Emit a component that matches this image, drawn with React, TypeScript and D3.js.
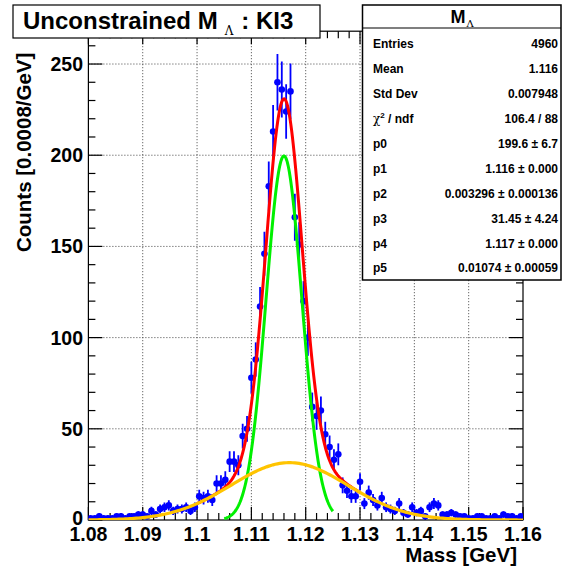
import React from "react";
import * as d3 from "d3";

// ---- data ----
const binStart = 1.08;
const binWidth = 0.0008;
const counts: number[] = [
  1, 1, 2, 1, 1, 1, 2, 2, 1, 2,
  2, 3, 3, 2, 5, 3, 6, 7, 8, 5,
  6, 6, 7, 5, 7, 13, 12, 13, 11, 20,
  20, 22, 32, 32, 30, 46, 50, 78, 88, 117,
  146, 183, 213, 240, 236, 224, 235, 166, 151, 120,
  100, 62, 57, 60, 47, 40, 33, 36, 19, 16,
  13, 13, 21, 9, 15, 11, 8, 12, 7, 6,
  5, 9, 4, 3, 7, 4, 5, 2, 7, 9,
  8, 3, 3, 4, 3, 2, 2, 1, 1, 2,
  2, 1, 1, 2, 1, 3, 2, 2, 1, 2,
];
const xTickValues = [1.08, 1.09, 1.1, 1.11, 1.12, 1.13, 1.14, 1.15, 1.16];
const xTickLabels = ["1.08", "1.09", "1.1", "1.11", "1.12", "1.13", "1.14", "1.15", "1.16"];
const yTickValues = [0, 50, 100, 150, 200, 250];
const yTickLabels = ["0", "50", "100", "150", "200", "250"];
const fitParams = [199.6, 1.116, 0.003296, 31.45, 1.117, 0.01074];
const totalRange = [1.1, 1.13];
const signalRange = [1.105, 1.125];
const statLabels = ["Entries", "Mean", "Std Dev", "chi", "p0", "p1", "p2", "p3", "p4", "p5"];
const statValues = [
  "4960", "1.116", "0.007948", "106.4 / 88", "199.6 \u00b1 6.7", "1.116 \u00b1 0.000",
  "0.003296 \u00b1 0.000136", "31.45 \u00b1 4.24", "1.117 \u00b1 0.000", "0.01074 \u00b1 0.00059",
];

const W = 564;
const H = 568;
const FONT = "'Liberation Sans', Arial, Helvetica, sans-serif";
const SERIF = "'DejaVu Serif', 'Liberation Serif', serif";
const M = { left: 88.4, right: 523, top: 31.2, bottom: 520 };

const gaus = (x: number, a: number, m: number, s: number) => a * Math.exp(-0.5 * ((x - m) / s) ** 2);

export default function App() {
  const x = d3.scaleLinear().domain([1.08, 1.16]).range([M.left, M.right]);
  const y = d3.scaleLinear().domain([0, 268]).range([M.bottom, M.top]);
  const [p0, p1, p2, p3, p4, p5] = fitParams;

  const line = d3.line<number>().x((d) => x(d));

  const sample = (r: number[]) => d3.range(0, 201).map((i) => r[0] + ((r[1] - r[0]) * i) / 200);
  const fullSample = sample([1.08, 1.16]);

  const redPath = line.y((d) => y(gaus(d, p0, p1, p2) + gaus(d, p3, p4, p5)))(sample(totalRange));
  const greenPath = line.y((d) => y(gaus(d, p0, p1, p2)))(sample(signalRange));
  const orangePath = line.y((d) => y(gaus(d, p3, p4, p5)))(fullSample);

  const minorX = d3.range(0, 41).map((i) => 1.08 + i * 0.002);
  const minorY = d3.range(0, 27).map((i) => i * 10);
  const gridX = xTickValues.slice(1, -1);
  const gridY = yTickValues.slice(1);

  const bins = counts.map((c, i) => ({
    lo: binStart + i * binWidth,
    mid: binStart + (i + 0.5) * binWidth,
    hi: binStart + (i + 1) * binWidth,
    c,
    e: Math.sqrt(c),
  }));

  const statsX0 = 362.5;
  const statsX1 = 561;
  const statsY0 = 5;
  const statsY1 = 280;

  return (
    <svg
      width={W}
      height={H}
      style={{ position: "absolute", left: 0, top: 0, background: "#fff" }}
      fontFamily={FONT}
      fontWeight="bold"
    >
      <rect x={0} y={0} width={W} height={H} fill="#fff" />
      <defs>
        <clipPath id="plotclip">
          <rect x={M.left} y={M.top} width={M.right - M.left} height={M.bottom - M.top} />
        </clipPath>
      </defs>

      {/* grid */}
      <g stroke="#444" strokeWidth={1} strokeDasharray="1,2">
        {gridX.map((v) => (
          <line key={"gx" + v} x1={x(v)} x2={x(v)} y1={M.top} y2={M.bottom} />
        ))}
        {gridY.map((v) => (
          <line key={"gy" + v} x1={M.left} x2={M.right} y1={y(v)} y2={y(v)} />
        ))}
      </g>

      {/* frame */}
      <rect x={M.left} y={M.top} width={M.right - M.left} height={M.bottom - M.top} fill="none" stroke="#000" strokeWidth={1.2} />

      {/* ticks */}
      <g stroke="#000" strokeWidth={1.2}>
        {minorX.map((v, i) => {
          const major = i % 5 === 0;
          const len = major ? 13 : 7;
          return (
            <g key={"tx" + i}>
              <line x1={x(v)} x2={x(v)} y1={M.bottom} y2={M.bottom - len} />
              <line x1={x(v)} x2={x(v)} y1={M.top} y2={M.top + len} />
            </g>
          );
        })}
        {minorY.map((v, i) => {
          const major = i % 5 === 0;
          const len = major ? 14 : 7;
          return (
            <g key={"ty" + i}>
              <line x1={M.left} x2={M.left + len} y1={y(v)} y2={y(v)} />
              <line x1={M.right} x2={M.right - len} y1={y(v)} y2={y(v)} />
            </g>
          );
        })}
      </g>

      {/* data points */}
      <g clipPath="url(#plotclip)" stroke="#0000ff" fill="#0000ff" strokeWidth={1.8}>
        {bins.map((b, i) => (
          <g key={"b" + i}>
            <line x1={x(b.mid)} x2={x(b.mid)} y1={y(b.c - b.e)} y2={y(b.c + b.e)} />
            <line x1={x(b.lo)} x2={x(b.hi)} y1={y(b.c)} y2={y(b.c)} />
            <circle cx={x(b.mid)} cy={y(b.c)} r={3.3} stroke="none" />
          </g>
        ))}
      </g>

      {/* fit curves */}
      <g clipPath="url(#plotclip)" fill="none" strokeWidth={3} strokeLinejoin="round">
        <path d={redPath ?? ""} stroke="#ff0000" />
        <path d={greenPath ?? ""} stroke="#00f000" />
        <path d={orangePath ?? ""} stroke="#ffc400" strokeWidth={3.2} />
      </g>

      {/* tick labels */}
      <g fontSize={19.5} fill="#000">
        {xTickValues.map((v, i) => (
          <text key={"xl" + i} x={x(v)} y={540.5} textAnchor="middle">
            {xTickLabels[i]}
          </text>
        ))}
        {yTickValues.map((v, i) => (
          <text key={"yl" + i} x={83} y={y(v) + (i === 0 ? 5 : 7)} textAnchor="end">
            {yTickLabels[i]}
          </text>
        ))}
      </g>

      {/* axis titles */}
      <text x={517} y={561.5} fontSize={20.5} textAnchor="end">
        Mass [GeV]
      </text>
      <text transform="translate(30.5,252) rotate(-90)" fontSize={20.5} textAnchor="start">
        Counts [0.0008/GeV]
      </text>

      {/* title box */}
      <rect x={13} y={5} width={307} height={33} fill="#fff" stroke="#000" strokeWidth={1.2} />
      <text x={23} y={29} fontSize={24}>
        Unconstrained M
        <tspan dx={7} dy={6} fontSize={12} fontFamily={SERIF} fontWeight="normal">
          {"\u039b"}
        </tspan>
        <tspan dx={8} dy={-6}>
          : KI3
        </tspan>
      </text>

      {/* stats box */}
      <rect x={statsX0} y={statsY0} width={statsX1 - statsX0} height={statsY1 - statsY0} fill="#fff" stroke="#000" strokeWidth={1.5} />
      <line x1={statsX0} x2={statsX1} y1={28} y2={28} stroke="#000" strokeWidth={1.2} />
      <text x={462} y={23} fontSize={18} textAnchor="middle">
        M
        <tspan dx={1} dy={4} fontSize={10} fontFamily={SERIF} fontWeight="normal">
          {"\u039b"}
        </tspan>
      </text>
      <g fontSize={12} fill="#000">
        {statLabels.map((lab, i) => {
          const yy = 44 + i * 24.9 + 4.3;
          return (
            <g key={"s" + i}>
              {lab === "chi" ? (
                <text x={373} y={yy}>
                  <tspan fontFamily={SERIF} fontWeight="normal">{"\u03c7"}</tspan>
                  <tspan dy={-5} fontSize={8}>2</tspan>
                  <tspan dy={5}> / ndf</tspan>
                </text>
              ) : (
                <text x={373} y={yy}>
                  {lab}
                </text>
              )}
              <text x={558} y={yy} textAnchor="end">
                {statValues[i]}
              </text>
            </g>
          );
        })}
      </g>
    </svg>
  );
}
